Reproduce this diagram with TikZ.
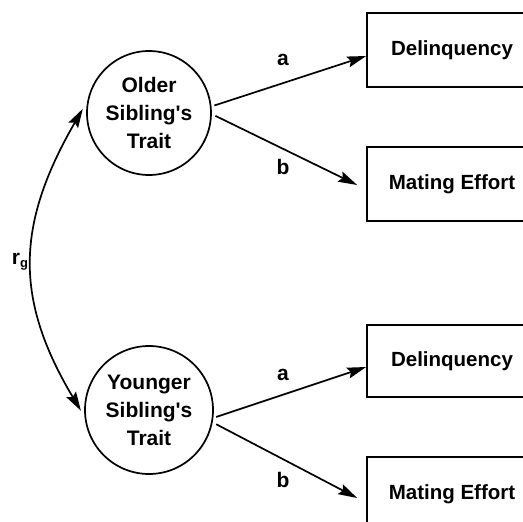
\documentclass[tikz,border=0pt]{standalone}
\usepackage{fontspec}
\setmainfont{Liberation Sans}[Ligatures=TeXOff]
\usetikzlibrary{arrows.meta}
\tikzset{
  trait/.style={circle, draw, line width=1.7pt, minimum size=124pt, inner sep=0pt, align=center,
    font=\fontsize{21}{28}\selectfont\bfseries},
  measure/.style={rectangle, draw, line width=1.7pt, minimum width=170pt, minimum height=74pt, inner sep=0pt,
    font=\fontsize{20.5}{24}\selectfont\bfseries},
  path/.style={line width=1.7pt, -{Stealth[length=19pt,width=11pt,inset=3pt]}},
  lbl/.style={font=\fontsize{21}{24}\selectfont\bfseries, inner sep=0pt}
}
\begin{document}
\begin{tikzpicture}[x=1pt,y=-1pt]
\useasboundingbox (0,0) rectangle (523,522);
\clip (0,0) rectangle (523,522);
\node[trait] (c1) at (149,113) {Older\\Sibling's\\Trait};
\node[trait, minimum size=128pt] (c2) at (149,410) {Younger\\Sibling's\\Trait};
\node[measure] (b1) at (452,50) {Delinquency};
\node[measure] (b2) at (452,184) {Mating Effort};
\node[measure, minimum height=72pt] (b3) at (452,361) {Delinquency};
\node[measure] (b4) at (452,494) {Mating Effort};
\draw[path, shorten <=3pt] (c1.6) -- ([yshift=-6pt]b1.west);
\draw[path, shorten <=4pt] (c1.-1) -- ([xshift=-9pt, yshift=-1pt]b2.west);
\draw[path, shorten <=3pt] (c2.-7) -- ([yshift=-6pt]b3.west);
\draw[path, shorten <=4pt] (c2.-11) -- ([xshift=-9pt, yshift=-4pt]b4.west);
\draw[line width=1.7pt, {Stealth[length=19pt,width=11pt,inset=3pt]}-{Stealth[length=19pt,width=11pt,inset=3pt]},
  shorten <=9pt, shorten >=7pt] (c1.169) .. controls (15,226) and (15,300) .. (c2.186);
\node[lbl] (la1) at (283,60) {a};
\node[lbl] (lb1) at (283,167) {b};
\node[lbl] (la2) at (283,375) {a};
\node[lbl] (lb2) at (283,480) {b};
\node[lbl] (rg) at (20,262) {r\raisebox{-3pt}{\fontsize{13}{13}\selectfont g}};
\end{tikzpicture}
\end{document}
